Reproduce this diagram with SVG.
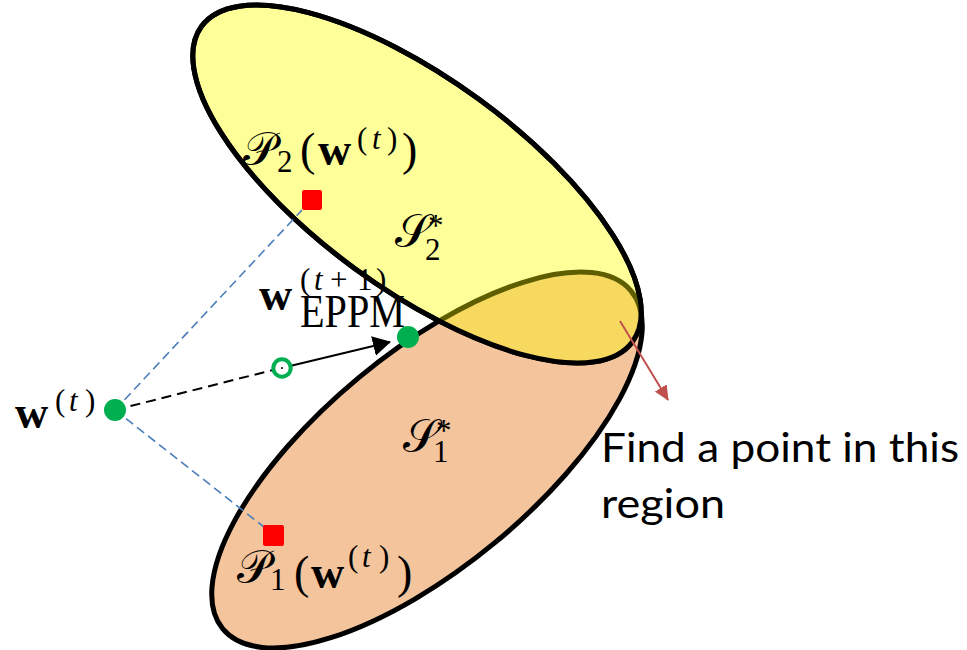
<svg xmlns="http://www.w3.org/2000/svg" width="967" height="650" viewBox="0 0 967 650">
<style>
.m{font-family:"Liberation Serif","DejaVu Serif","DejaVu Sans",serif;font-size:46px;fill:#000}
.s{font-size:31px}
.b{font-weight:bold}
.i{font-style:italic}
.t{font-family:Lato,"Open Sans","Liberation Sans",sans-serif;font-size:40px;fill:#000}
.outline{fill:none;stroke:#000;stroke-width:5}
.blue{stroke:#4A7EBB;stroke-width:1.6;stroke-dasharray:9 5;fill:none}
.gdot{fill:#00B050}
.sq{fill:#FF0000}
</style>
<defs>
<ellipse id="eO" cx="0" cy="0" rx="265" ry="107" transform="translate(427 460) rotate(-39.6)"/>
<ellipse id="eY" cx="0" cy="0" rx="267" ry="105" transform="translate(417 184) rotate(36.2)"/>
<clipPath id="clipY"><use href="#eY"/></clipPath>
<marker id="arrK" viewBox="0 0 18 20" refX="17" refY="10" markerWidth="18" markerHeight="20" orient="auto" markerUnits="userSpaceOnUse"><path d="M0,0 L18,10 L0,20 z" fill="#000"/></marker>
<marker id="arrR" viewBox="0 0 15 14" refX="14" refY="7" markerWidth="15" markerHeight="14" orient="auto" markerUnits="userSpaceOnUse"><path d="M0,0 L15,7 L0,14 z" fill="#C0504D"/></marker>
</defs>

<g id="S1">
<use href="#eO" fill="#F4C49C" stroke="#000" stroke-width="5"/>
</g>
<g id="S2">
<use href="#eY" fill="#FFFF99" stroke="#000" stroke-width="5"/>
</g>
<g id="intersection">
<g clip-path="url(#clipY)"><use href="#eO" fill="#F8D960" stroke="#5E5E00" stroke-width="5"/></g>
<use href="#eY" class="outline"/>
</g>

<g id="connectors">
<line class="blue" x1="115" y1="410" x2="302" y2="210"/>
<line class="blue" x1="115" y1="410" x2="264" y2="527"/>
<line x1="115" y1="410" x2="273" y2="370" stroke="#000" stroke-width="2" stroke-dasharray="10 6"/>
<line x1="290" y1="366" x2="390" y2="342" stroke="#000" stroke-width="2" marker-end="url(#arrK)"/>
<line x1="620" y1="321" x2="668" y2="400" stroke="#C0504D" stroke-width="2" marker-end="url(#arrR)"/>
</g>

<g id="w_t">
<circle class="gdot" cx="115" cy="410" r="11"/>
<text class="m"><tspan x="15" y="428" class="b">w</tspan><tspan x="55" y="411" class="s">(</tspan><tspan x="69" class="s i">t</tspan><tspan x="85" class="s">)</tspan></text>
</g>
<g id="midpoint">
<circle cx="282" cy="368" r="8.7" fill="#fff" stroke="#00B050" stroke-width="4"/>
<circle cx="282" cy="368" r="1" fill="#000"/>
</g>
<g id="w_eppm">
<circle class="gdot" cx="408" cy="337" r="11"/>
<text class="m"><tspan x="259" y="310" class="b">w</tspan><tspan x="300" y="290" class="s">(</tspan><tspan x="314" class="s i">t</tspan><tspan x="330" class="s">+</tspan><tspan x="357" class="s">1</tspan><tspan x="376" class="s">)</tspan></text>
<text class="m" x="300" y="327" font-size="32" textLength="105" lengthAdjust="spacingAndGlyphs">EPPM</text>
</g>
<g id="P2">
<rect class="sq" x="302" y="190" width="20" height="20" rx="2"/>
<text class="m"><tspan x="243" y="165">𝒫</tspan><tspan x="277" y="172" class="s">2</tspan><tspan x="300" y="165">(</tspan><tspan x="318" class="b">w</tspan><tspan x="357" y="149" class="s">(</tspan><tspan x="372" class="s i">t</tspan><tspan x="387" class="s">)</tspan><tspan x="402" y="165">)</tspan></text>
</g>
<g id="P1">
<rect class="sq" x="263" y="525" width="21" height="21" rx="2"/>
<text class="m"><tspan x="237" y="583">𝒫</tspan><tspan x="270" y="590" class="s">1</tspan><tspan x="294" y="588">(</tspan><tspan x="311" class="b">w</tspan><tspan x="348" y="567" class="s">(</tspan><tspan x="362" class="s i">t</tspan><tspan x="379" class="s">)</tspan><tspan x="397" y="588">)</tspan></text>
</g>
<g id="S2label">
<text class="m"><tspan x="395" y="247">𝒮</tspan><tspan x="428" y="236" class="s">*</tspan><tspan x="425" y="260" class="s">2</tspan></text>
</g>
<g id="S1label">
<text class="m"><tspan x="403" y="452">𝒮</tspan><tspan x="436" y="441" class="s">*</tspan><tspan x="433" y="462" class="s">1</tspan></text>
</g>
<g id="note">
<text class="t" x="601" y="462" textLength="358" lengthAdjust="spacingAndGlyphs">Find a point in this</text>
<text class="t" x="601" y="518" textLength="124" lengthAdjust="spacingAndGlyphs">region</text>
</g>
</svg>
